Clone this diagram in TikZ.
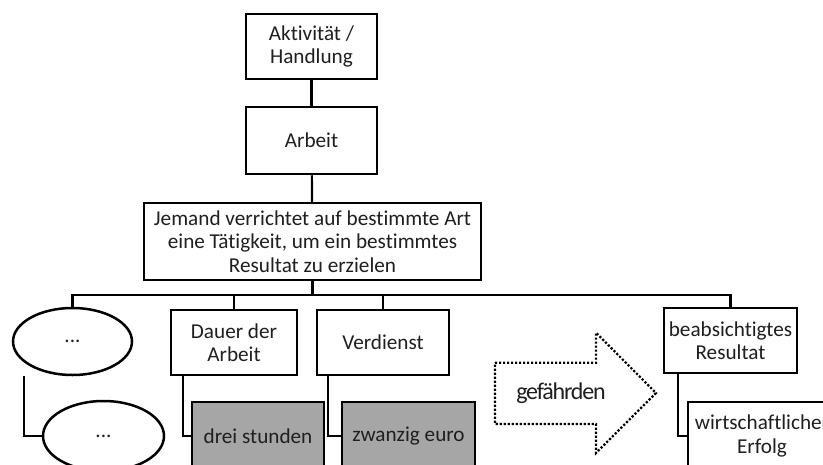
\documentclass[tikz,border=0pt]{standalone}
\usepackage{fontspec}
\setmainfont{Carlito}[Ligatures={NoCommon}]
\newfontfamily\tightfont{Carlito}[LetterSpace=-5, Ligatures={NoCommon}]
\usetikzlibrary{shapes.geometric}
\definecolor{ink}{HTML}{1F1F1F}
\definecolor{shade}{HTML}{A6A6A6}

\begin{document}
\begin{tikzpicture}[x=1pt,y=-1pt,
  txt/.style={font=\fontsize{21.2}{23.5}\selectfont, text=ink, align=center},
  box/.style={txt, draw=black, line width=2.5pt, fill=white, inner sep=0pt,
    minimum width=#1},
  greybox/.style={box=#1, fill=shade},
  oval/.style={txt, ellipse, draw=black, line width=2.5pt, fill=white, inner sep=0pt},
  link/.style={draw=black, line width=2.2pt},
  dotline/.style={draw=black, line width=2.2pt, dash pattern=on 2.2pt off 1.8pt}]

\useasboundingbox (0,0) rectangle (823,464);
\clip (0,0) rectangle (823,464);
\fill[white] (0,0) rectangle (823,464);

% chain at the top
\node[box=131pt, minimum height=65pt] (act) at (311.5,46.5) {Aktivität /\\Handlung};
\node[box=131pt, minimum height=67pt] (arb) at (311.5,140.5) {Arbeit};
\node[box=337pt, minimum height=77pt] (def) at (312.5,241.5)
  {Jemand verrichtet auf bestimmte Art\\eine Tätigkeit, um ein bestimmtes\\Resultat zu erzielen};

\draw[link] (act) -- (arb);
\draw[link] (arb) -- (def);

% second level
\node[oval, minimum width=119pt, minimum height=67pt] (e1) at (72.5,341.5) {...};
\node[box=126pt, minimum height=65pt] (dauer) at (234,342.5) {Dauer der\\Arbeit};
\node[box=132pt, minimum height=65pt] (verd) at (383,342.5) {Verdienst};
\node[box=133pt, minimum height=65pt] (beab) at (730.5,340.5) {beabsichtigtes\\Resultat};

\coordinate (bus) at (312.5,295);
\draw[link] (def.south) -- (bus);
\draw[link] (bus) -| (e1.north);
\draw[link] (bus) -| (dauer.north);
\draw[link] (bus) -| (verd.north);
\draw[link] (bus) -| (beab.north);

% third level
\node[oval, minimum width=121pt, minimum height=70pt] (e2) at (103.5,436) {...};
\node[greybox=132pt, minimum height=68pt] (drei) at (258,436) {drei stunden};
\node[greybox=133pt, minimum height=68pt] (zwan) at (408.5,436) {zwanzig euro};
\node[box=148pt, minimum height=68pt] (erfolg) at (762,436) {wirtschaftlicher\\Erfolg};

\draw[link] ([xshift=-48.5]e1.south) |- (e2.west);
\draw[link] ([xshift=13]dauer.south west) |- (drei.west);
\draw[link] ([xshift=12]verd.south west) |- (zwan.west);
\draw[link] ([xshift=15]beab.south west) |- (erfolg.west);

% dotted block arrow
\coordinate (a1) at (495,362.7);
\coordinate (a2) at (596,362.7);
\coordinate (a3) at (596,332.7);
\coordinate (tip) at (656,393);
\coordinate (a5) at (596,453);
\coordinate (a6) at (596,424);
\coordinate (a7) at (495,424);
\draw[dotline] (a1) -- (a2) -- (a3) -- (tip) -- (a5) -- (a6) -- (a7) -- cycle;
\node[font=\tightfont\fontsize{24}{26}\selectfont, text=ink, inner sep=0pt] (gef) at (561,393) {gefährden};

\end{tikzpicture}
\end{document}
